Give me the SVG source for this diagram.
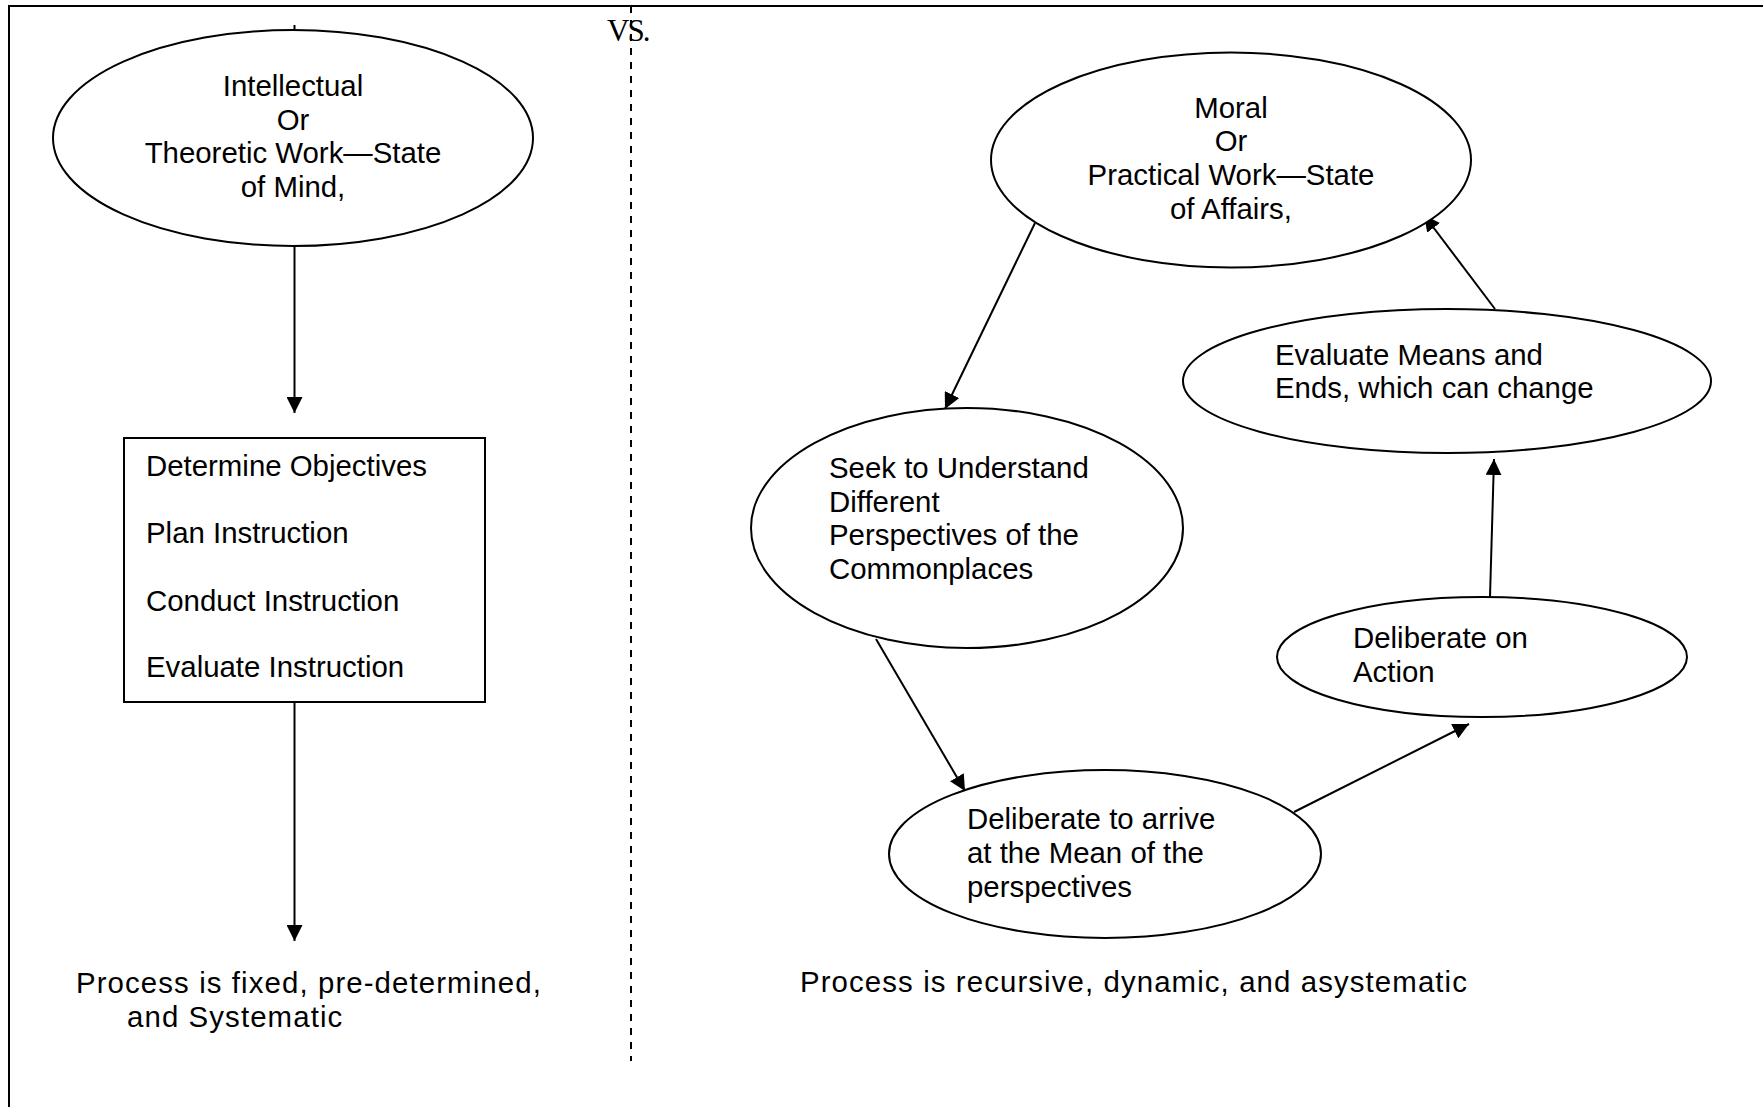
<svg xmlns="http://www.w3.org/2000/svg" width="1763" height="1107" viewBox="0 0 1763 1107">
  <style>
    .shape { fill: #ffffff; stroke: #000000; stroke-width: 2; }
    .edge { fill: none; stroke: #000000; stroke-width: 2; }
    .label { font-family: "Liberation Sans", Arial, sans-serif; font-size: 29.4px; fill: #000000; }
    .note { letter-spacing: 1.1px; }
    .mid { text-anchor: middle; }
    .frame { fill: none; stroke: #000000; stroke-width: 2; }
  </style>
  <defs>
    <marker id="arrow" viewBox="0 0 16 16" refX="16" refY="8" markerWidth="16" markerHeight="16" markerUnits="userSpaceOnUse" orient="auto">
      <path d="M0,0 L16,8 L0,16 Z" fill="#000000"/>
    </marker>
  </defs>

  <rect width="1763" height="1107" fill="#ffffff"/>

  <!-- page frame and divider -->
  <g id="frame">
    <polyline class="frame" points="9,1107 9,6 1763,6"/>
    <line x1="631" y1="6" x2="631" y2="1061" stroke="#000000" stroke-width="2" stroke-dasharray="7,7"/>
    <text x="607" y="41" font-family="'Liberation Serif', 'Times New Roman', serif" font-size="31" letter-spacing="-2">VS.</text>
  </g>

  <!-- connectors -->
  <g id="connectors">
    <line class="edge" x1="294.5" y1="25" x2="294.5" y2="30"/>
    <line class="edge" x1="294.5" y1="246" x2="294.5" y2="413" marker-end="url(#arrow)"/>
    <line class="edge" x1="294.5" y1="702" x2="294.5" y2="941" marker-end="url(#arrow)"/>
    <line class="edge" x1="1035" y1="223" x2="945" y2="409" marker-end="url(#arrow)"/>
    <line class="edge" x1="876" y1="639" x2="965" y2="791" marker-end="url(#arrow)"/>
    <line class="edge" x1="1294" y1="812" x2="1469" y2="724" marker-end="url(#arrow)"/>
    <line class="edge" x1="1490" y1="597" x2="1494" y2="459" marker-end="url(#arrow)"/>
    <line class="edge" x1="1495" y1="309" x2="1424" y2="215" marker-end="url(#arrow)"/>
  </g>

  <!-- left column -->
  <g id="intellectual">
    <ellipse class="shape" cx="293" cy="138" rx="240" ry="108"/>
    <text class="label mid" x="293" y="96">Intellectual</text>
    <text class="label mid" x="293" y="130">Or</text>
    <text class="label mid" x="293" y="163">Theoretic Work—State</text>
    <text class="label mid" x="293" y="197">of Mind,</text>
  </g>

  <g id="steps">
    <rect class="shape" x="124" y="438" width="361" height="264"/>
    <text class="label" x="146" y="476">Determine Objectives</text>
    <text class="label" x="146" y="543">Plan Instruction</text>
    <text class="label" x="146" y="611">Conduct Instruction</text>
    <text class="label" x="146" y="677">Evaluate Instruction</text>
  </g>

  <g id="fixed-note">
    <text class="label note" x="76" y="993">Process is fixed, pre-determined,</text>
    <text class="label note" x="127" y="1027">and Systematic</text>
  </g>

  <!-- right column -->
  <g id="moral">
    <ellipse class="shape" cx="1231" cy="160" rx="240" ry="107.5"/>
    <text class="label mid" x="1231" y="118">Moral</text>
    <text class="label mid" x="1231" y="151">Or</text>
    <text class="label mid" x="1231" y="185">Practical Work—State</text>
    <text class="label mid" x="1231" y="219">of Affairs,</text>
  </g>

  <g id="seek">
    <ellipse class="shape" cx="967" cy="528" rx="216" ry="120"/>
    <text class="label" x="829" y="478">Seek to Understand</text>
    <text class="label" x="829" y="512">Different</text>
    <text class="label" x="829" y="545">Perspectives of the</text>
    <text class="label" x="829" y="579">Commonplaces</text>
  </g>

  <g id="deliberate-mean">
    <ellipse class="shape" cx="1105" cy="854" rx="216" ry="84"/>
    <text class="label" x="967" y="829">Deliberate to arrive</text>
    <text class="label" x="967" y="863">at the Mean of the</text>
    <text class="label" x="967" y="897">perspectives</text>
  </g>

  <g id="deliberate-action">
    <ellipse class="shape" cx="1482" cy="657" rx="205" ry="60"/>
    <text class="label" x="1353" y="648">Deliberate on</text>
    <text class="label" x="1353" y="682">Action</text>
  </g>

  <g id="evaluate">
    <ellipse class="shape" cx="1447" cy="381" rx="264" ry="72"/>
    <text class="label" x="1275" y="365">Evaluate Means and</text>
    <text class="label" x="1275" y="398">Ends, which can change</text>
  </g>

  <g id="recursive-note">
    <text class="label note" x="800" y="992">Process is recursive, dynamic, and asystematic</text>
  </g>
</svg>
